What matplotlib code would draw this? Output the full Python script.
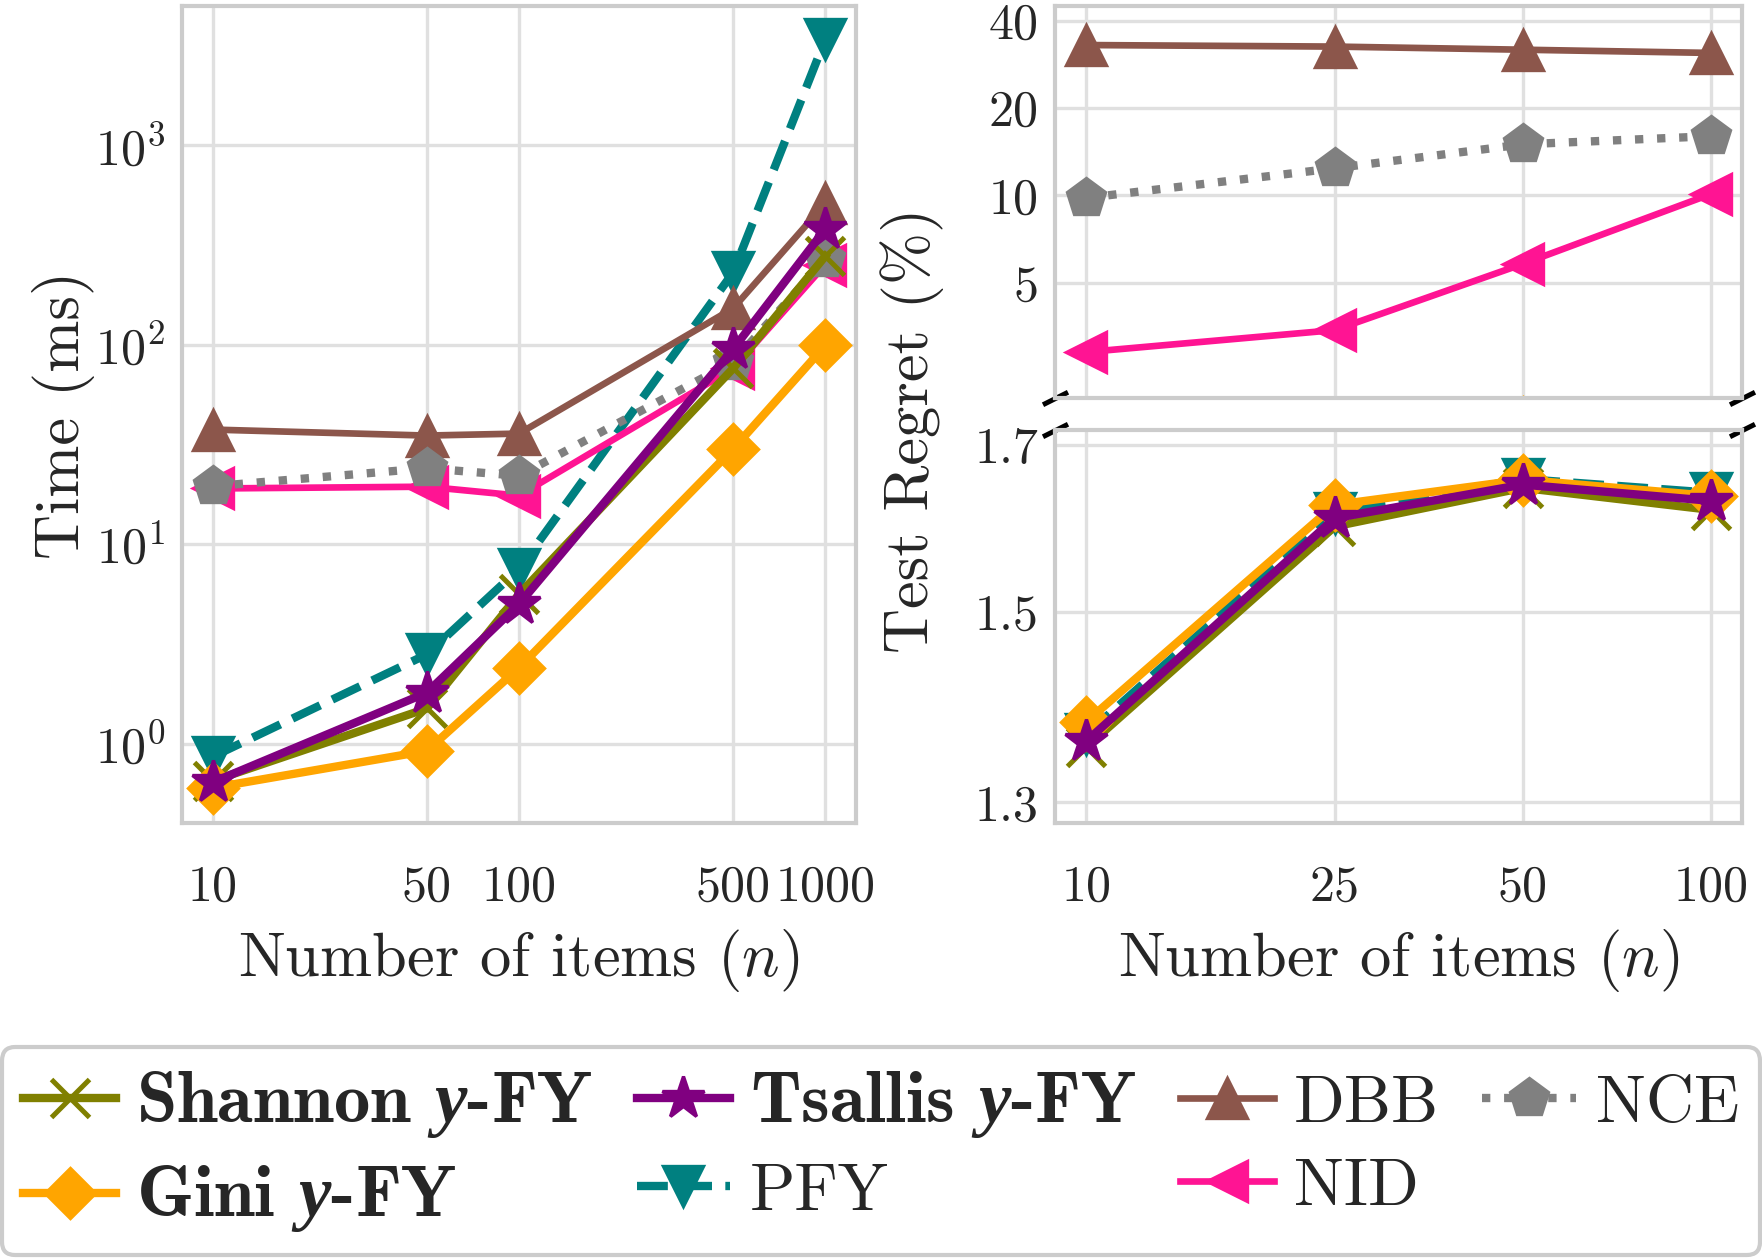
import matplotlib
matplotlib.use("Agg")
import matplotlib.pyplot as plt
from matplotlib.ticker import FixedLocator, FixedFormatter, NullLocator, NullFormatter

plt.rcParams.update({
    "font.family": "cmr10",
    "mathtext.fontset": "custom",
    "mathtext.rm": "cmr10",
    "mathtext.it": "cmmi10",
    "mathtext.bf": "cmb10",
    "mathtext.bfit": "Liberation Serif:italic:bold",
    "axes.formatter.use_mathtext": True,
    "text.color": ".15",
    "axes.labelcolor": ".15",
    "xtick.color": ".15",
    "ytick.color": ".15",
    "axes.edgecolor": ".8",
    "axes.linewidth": 1.0,
    "grid.color": ".88",
    "grid.linewidth": 0.8,
    "xtick.major.size": 0,
    "ytick.major.size": 0,
    "xtick.minor.size": 0,
    "ytick.minor.size": 0,
})

# time per training step (ms) vs number of items
n_time = [10, 50, 100, 500, 1000]
time_shannon = [0.65, 1.5, 5.6, 76, 278]
time_gini = [0.60, 0.92, 2.4, 30, 99]
time_tsallis = [0.64, 1.8, 5.0, 95, 380]
time_pfy = [0.86, 2.8, 7.5, 230, 3400]
time_dbb = [37.5, 35, 35.8, 152, 510]
time_nce = [19.5, 24, 22, 82, 268]
time_nid = [19.0, 19.4, 17.5, 76, 252]

# test regret (%) vs number of items
n_regret = [10, 25, 50, 100]
regret_shannon = [1.355, 1.599, 1.646, 1.619]
regret_gini = [1.381, 1.625, 1.656, 1.636]
regret_tsallis = [1.361, 1.609, 1.650, 1.630]
regret_pfy = [1.368, 1.615, 1.657, 1.640]
regret_dbb = [33.0, 32.6, 31.8, 31.0]
regret_nce = [9.8, 12.4, 15.0, 16.0]
regret_nid = [2.88, 3.43, 5.8, 10.1]

time_ticks = [10, 50, 100, 500, 1000]
regret_xticks = [10, 25, 50, 100]
regret_top_ticks = [5, 10, 20, 40]
regret_bottom_ticks = [1.3, 1.5, 1.7]

# name, label, color, marker, linestyle, linewidth  (plot order = z order)
methods = [
    ("pfy", "PFY", "teal", "v", "--", 2.0),
    ("dbb", "DBB", "#8c564b", "^", "-", 1.6),
    ("nid", "NID", "deeppink", "<", "-", 1.6),
    ("nce", "NCE", "gray", "p", ":", 2.0),
    ("shannon", r"Shannon $\mathbfit{y}$-FY", "olive", "x", "-", 2.0),
    ("gini", r"Gini $\mathbfit{y}$-FY", "orange", "D", "-", 2.0),
    ("tsallis", r"Tsallis $\mathbfit{y}$-FY", "purple", "*", "-", 2.0),
]
msizes = {"D": 8.5, "*": 10.5, "x": 9, "v": 9.5, "^": 9.5, "<": 9.5, "p": 9.5}

time_data = {"shannon": time_shannon, "gini": time_gini, "tsallis": time_tsallis,
             "pfy": time_pfy, "dbb": time_dbb, "nce": time_nce, "nid": time_nid}
regret_data = {"shannon": regret_shannon, "gini": regret_gini, "tsallis": regret_tsallis,
               "pfy": regret_pfy, "dbb": regret_dbb, "nce": regret_nce, "nid": regret_nid}

W, H = 1762, 1258
fig = plt.figure(figsize=(W / 300, H / 300), dpi=300)
ax = fig.add_axes([182 / W, 1 - 823 / H, 674 / W, 817 / H])
ax_top = fig.add_axes([1055 / W, 1 - 398 / H, 687 / W, 392 / H])
ax_bot = fig.add_axes([1055 / W, 1 - 823 / H, 687 / W, 393 / H])

handles = {}
for key, label, color, marker, ls, lw in methods:
    kw = dict(color=color, marker=marker, ls=ls, lw=lw, ms=msizes[marker],
              mew=1.2 if marker == "x" else 0.8, mec=color)
    handles[key], = ax.plot(n_time, time_data[key], label=label, **kw)
    ax_top.plot(n_regret, regret_data[key], **kw)
    ax_bot.plot(n_regret, regret_data[key], **kw)

# left: time
ax.set_xscale("log")
ax.set_yscale("log")
ax.set_xlim(7.94, 1259)
ax.set_ylim(0.40, 4980)
ax.xaxis.set_major_locator(FixedLocator(time_ticks))
ax.xaxis.set_major_formatter(FixedFormatter([str(t) for t in time_ticks]))
ax.xaxis.set_minor_locator(NullLocator())
ax.yaxis.set_minor_locator(NullLocator())
ax.set_xlabel(r"Number of items ($n$)", fontsize=15, labelpad=4)
ax.set_ylabel("Time (ms)", fontsize=15, labelpad=0)

# right: regret with broken y axis
for a in (ax_top, ax_bot):
    a.set_xscale("log")
    a.set_yscale("log")
    a.set_xlim(8.91, 112.2)
    a.xaxis.set_major_locator(FixedLocator(regret_xticks))
    a.xaxis.set_minor_locator(NullLocator())
    a.yaxis.set_minor_locator(NullLocator())
    a.yaxis.set_minor_formatter(NullFormatter())
ax_top.xaxis.set_major_formatter(NullFormatter())
ax_bot.xaxis.set_major_formatter(FixedFormatter([str(t) for t in regret_xticks]))
ax_top.set_ylim(2.0, 45)
ax_top.yaxis.set_major_locator(FixedLocator(regret_top_ticks))
ax_top.yaxis.set_major_formatter(FixedFormatter([str(t) for t in regret_top_ticks]))
ax_bot.set_ylim(1.28, 1.719)
ax_bot.yaxis.set_major_locator(FixedLocator(regret_bottom_ticks))
ax_bot.yaxis.set_major_formatter(FixedFormatter([str(t) for t in regret_bottom_ticks]))
ax_bot.set_xlabel(r"Number of items ($n$)", fontsize=15, labelpad=4)
fig.text(912 / W, 1 - 430 / H, "Test Regret (%)", rotation=90, ha="center",
         va="center", fontsize=15)

for a in (ax, ax_top, ax_bot):
    a.grid(True, which="major")
    a.set_axisbelow(True)
    a.tick_params(axis="both", which="major", labelsize=12)
    a.tick_params(axis="x", pad=10)
    a.tick_params(axis="y", pad=4)

# break marks
brk = dict(marker=[(-1, -0.5), (1, 0.5)], markersize=6, linestyle="none",
           color="k", mec="k", mew=1.2, clip_on=False)
ax_top.plot([0, 1], [0, 0], transform=ax_top.transAxes, **brk)
ax_bot.plot([0, 1], [1, 1], transform=ax_bot.transAxes, **brk)

order = ["shannon", "gini", "tsallis", "pfy", "dbb", "nid", "nce"]
leg = fig.legend([handles[k] for k in order], [handles[k].get_label() for k in order],
                 loc="lower left", bbox_to_anchor=(0.001, 0.002, 0.998, 0.2),
                 mode="expand", borderaxespad=0, ncol=4, fontsize=16,
                 handlelength=1.4, handletextpad=0.3, columnspacing=0.6,
                 labelspacing=0.35, frameon=True, fancybox=True, framealpha=1,
                 edgecolor=".8", borderpad=0.32)
leg.get_frame().set_linewidth(1.0)
for t in leg.get_texts():
    if "FY" in t.get_text() and "PFY" != t.get_text():
        t.set_fontfamily("cmb10")
        t.set_fontsize(17.5)

fig.savefig("out.png", dpi=300)
